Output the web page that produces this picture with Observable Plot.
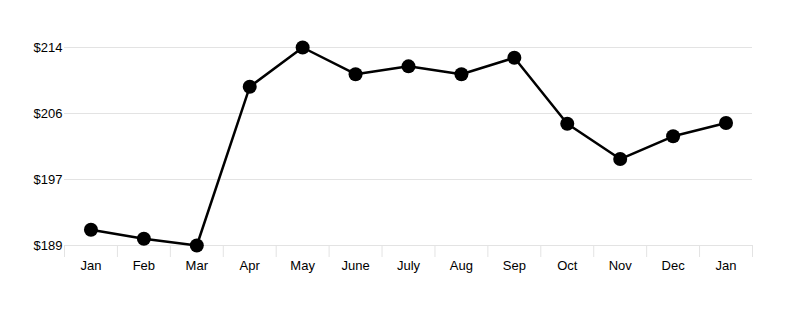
<!DOCTYPE html>
<html>
<head>
<meta charset="utf-8">
<script src="https://cdn.jsdelivr.net/npm/d3@7"></script>
<script src="https://cdn.jsdelivr.net/npm/@observablehq/plot@0.6"></script>
<style>
  html, body { margin: 0; padding: 0; background: #fff; }
  #chart svg { display: block; }
</style>
</head>
<body>
<div id="chart"></div>
<script>
const months = ["Jan", "Feb", "Mar", "Apr", "May", "June", "July", "Aug", "Sep", "Oct", "Nov", "Dec", "Jan"];
const prices = [191.0, 189.85, 189.0, 209.2, 214.2, 210.8, 211.8, 210.8, 212.9, 204.5, 200.0, 202.9, 204.6];
const yTicks = [189, 197.4, 205.8, 214.2];
const yTickLabels = ["$189", "$197", "$206", "$214"];

const data = months.map((m, i) => ({i: i + 0.5, month: m, price: prices[i]}));
const centers = months.map((m, i) => i + 0.5);
const edges = d3.range(months.length + 1);

const chart = Plot.plot({
  width: 802,
  height: 314,
  marginLeft: 64,
  marginRight: 50,
  marginTop: 47,
  marginBottom: 69,
  style: {fontFamily: "'Liberation Sans', Arial, sans-serif", fontSize: "13px", background: "#fff", color: "#000"},
  x: {type: "linear", domain: [0, months.length]},
  y: {domain: [yTicks[0], yTicks[yTicks.length - 1]]},
  marks: [
    Plot.gridY(yTicks, {stroke: "#e3e3e3", strokeOpacity: 1, strokeWidth: 1}),
    Plot.axisY({ticks: yTicks, tickSize: 0, tickPadding: 2, tickFormat: (d, k) => yTickLabels[k], label: null, fontSize: 13}),
    Plot.axisX({ticks: edges, tickSize: 12, tickFormat: () => "", stroke: "#e3e3e3", label: null}),
    Plot.axisX({ticks: centers, tickSize: 0, tickPadding: 15, tickFormat: (d) => months[Math.round(d - 0.5)], label: null, fontSize: 13}),
    Plot.line(data, {x: "i", y: "price", stroke: "#000", strokeWidth: 2.5}),
    Plot.dot(data, {x: "i", y: "price", r: 7, fill: "#000", stroke: "none"})
  ]
});
document.getElementById("chart").appendChild(chart);
</script>
</body>
</html>
